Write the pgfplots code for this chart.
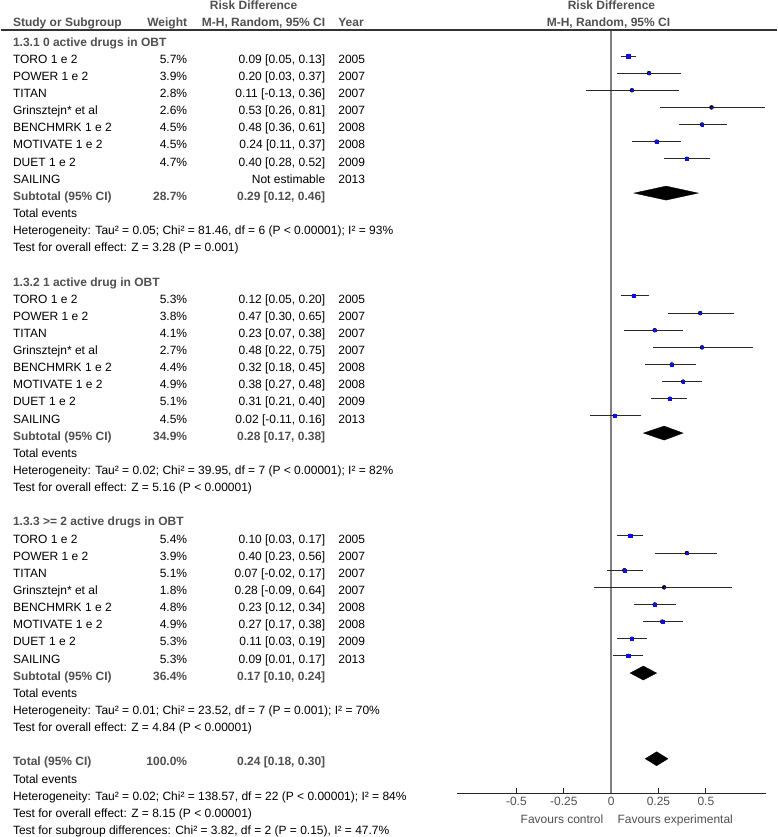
\documentclass[border=0pt]{standalone}
\usepackage{fontspec}
\setmainfont{Liberation Sans}
\usepackage{pgfplots}
\usepackage{pgfplotstable}
\pgfplotsset{compat=1.18}
\AtBeginDocument{\fontsize{12bp}{14bp}\selectfont}

\definecolor{hdr}{RGB}{80,80,80}
\definecolor{ci}{RGB}{40,40,40}
\definecolor{mk}{RGB}{15,15,225}
\definecolor{zero}{RGB}{128,128,128}

% column positions (axis x units)
\newcommand{\cx}{-3.158}
\newcommand{\wx}{-2.237}
\newcommand{\rx}{-1.508}
\newcommand{\yx}{-1.4406}

% row k: est lo hi weight
\pgfplotstableread{
k  est  lo    hi   w
1  0.09 0.05  0.13 5.7
2  0.20 0.03  0.37 3.9
3  0.11 -0.13 0.36 2.8
4  0.53 0.26  0.81 2.6
5  0.48 0.36  0.61 4.5
6  0.24 0.11  0.37 4.5
7  0.40 0.28  0.52 4.7
15 0.12 0.05  0.20 5.3
16 0.47 0.30  0.65 3.8
17 0.23 0.07  0.38 4.1
18 0.48 0.22  0.75 2.7
19 0.32 0.18  0.45 4.4
20 0.38 0.27  0.48 4.9
21 0.31 0.21  0.40 5.1
22 0.02 -0.11 0.16 4.5
29 0.10 0.03  0.17 5.4
30 0.40 0.23  0.56 3.9
31 0.07 -0.02 0.17 5.1
32 0.28 -0.09 0.64 1.8
33 0.23 0.12  0.34 4.8
34 0.27 0.17  0.38 4.9
35 0.11 0.03  0.19 5.3
36 0.09 0.01  0.17 5.3
}\studies

\newcommand{\srow}[5]{%
\node[t, anchor=base west] at (axis cs:\cx,{-(#1+0.42)}) {#2};
\node[t, anchor=base east] at (axis cs:\wx,{-(#1+0.42)}) {#3};
\node[t, anchor=base east] at (axis cs:\rx,{-(#1+0.42)}) {#4};
\node[t, anchor=base west] at (axis cs:\yx,{-(#1+0.42)}) {#5};}
\newcommand{\brow}[4]{%
\node[t, anchor=base west, text=hdr, font=\bfseries] at (axis cs:\cx,{-(#1+0.42)}) {#2};
\node[t, anchor=base east, text=hdr, font=\bfseries] at (axis cs:\wx,{-(#1+0.42)}) {#3};
\node[t, anchor=base east, text=hdr, font=\bfseries] at (axis cs:\rx,{-(#1+0.42)}) {#4};}
\newcommand{\lrow}[2]{%
\node[t, anchor=base west] at (axis cs:\cx,{-(#1+0.42)}) {#2};}
\newcommand{\grow}[2]{%
\node[t, anchor=base west, text=hdr, font=\bfseries] at (axis cs:\cx,{-(#1+0.42)}) {#2};}

\begin{document}
\begin{tikzpicture}[t/.style={inner sep=0pt}]
\begin{axis}[
  x=189.5bp, y=17.146bp,
  xmin=-0.815, xmax=0.815, ymin=-44, ymax=0.516,
  axis x line=bottom, axis y line=center,
  axis line style={-},
  x axis line style={black!85, line width=0.9bp},
  y axis line style={zero, line width=1.4bp},
  hide obscured x ticks=false,
  xtick={-0.5,-0.25,0,0.25,0.5},
  xticklabels={-0.5,-0.25,0,0.25,0.5},
  xtick align=inside,
  major tick length=5bp,
  xtick style={black!85, line width=0.9bp},
  ytick=\empty,
  xticklabel style={text=hdr},
  clip=false,
]
% picture frame
\path (axis cs:-3.2227,2.266) rectangle (axis cs:0.8776,-46.55);
\draw[black!80, line width=1.2bp] (axis cs:-3.2227,0.516) -- (axis cs:0.8776,0.516);

% confidence intervals
\addplot[only marks, mark=none, forget plot,
  error bars/.cd, x dir=both, x explicit, error mark=none,
  error bar style={ci, line width=0.9bp}]
  table[x=est, y expr=-\thisrow{k},
        x error plus expr=\thisrow{hi}-\thisrow{est},
        x error minus expr=\thisrow{est}-\thisrow{lo}] {\studies};
% point estimates, size by weight
\addplot[scatter, only marks, mark=square*,
  scatter/use mapped color={draw=mk, fill=mk, line width=0.2bp},
  visualization depends on={0.3*\thisrow{w} \as \perpointmarksize},
  scatter/@pre marker code/.append style={/tikz/mark size=\perpointmarksize}]
  table[x=est, y expr=-\thisrow{k}] {\studies};

% pooled diamonds
\addplot[fill=black, draw=black, line width=0.3bp] coordinates {(0.12,-9) (0.29,-8.59) (0.46,-9) (0.29,-9.41)} -- cycle;
\addplot[fill=black, draw=black, line width=0.3bp] coordinates {(0.17,-23) (0.28,-22.59) (0.38,-23) (0.28,-23.41)} -- cycle;
\addplot[fill=black, draw=black, line width=0.3bp] coordinates {(0.10,-37) (0.17,-36.59) (0.24,-37) (0.17,-37.41)} -- cycle;
\addplot[fill=black, draw=black, line width=0.3bp] coordinates {(0.18,-42) (0.24,-41.59) (0.30,-42) (0.24,-42.41)} -- cycle;

% headers
\node[t, anchor=base, text=hdr, font=\bfseries] at (axis cs:-1.887,1.683) {Risk Difference};
\node[t, anchor=base, text=hdr, font=\bfseries] at (axis cs:0.002,1.683) {Risk Difference};
\node[t, anchor=base west, text=hdr, font=\bfseries] at (axis cs:\cx,0.709) {Study or Subgroup};
\node[t, anchor=base east, text=hdr, font=\bfseries] at (axis cs:\wx,0.709) {Weight};
\node[t, anchor=base east, text=hdr, font=\bfseries] at (axis cs:\rx,0.709) {M-H, Random, 95\% CI};
\node[t, anchor=base west, text=hdr, font=\bfseries] at (axis cs:\yx,0.709) {Year};
\node[t, anchor=base, text=hdr, font=\bfseries] at (axis cs:-0.014,0.709) {M-H, Random, 95\% CI};

% group 1
\grow{0}{1.3.1 0 active drugs in OBT}
\srow{1}{TORO 1 e 2}{5.7\%}{0.09 [0.05, 0.13]}{2005}
\srow{2}{POWER 1 e 2}{3.9\%}{0.20 [0.03, 0.37]}{2007}
\srow{3}{TITAN}{2.8\%}{0.11 [-0.13, 0.36]}{2007}
\srow{4}{Grinsztejn* et al}{2.6\%}{0.53 [0.26, 0.81]}{2007}
\srow{5}{BENCHMRK 1 e 2}{4.5\%}{0.48 [0.36, 0.61]}{2008}
\srow{6}{MOTIVATE 1 e 2}{4.5\%}{0.24 [0.11, 0.37]}{2008}
\srow{7}{DUET 1 e 2}{4.7\%}{0.40 [0.28, 0.52]}{2009}
\srow{8}{SAILING}{}{Not estimable}{2013}
\brow{9}{Subtotal (95\% CI)}{28.7\%}{0.29 [0.12, 0.46]}
\lrow{10}{Total events}
\lrow{11}{Heterogeneity: Tau² = 0.05; Chi² = 81.46, df = 6 (P < 0.00001); I² = 93\%}
\lrow{12}{Test for overall effect: Z = 3.28 (P = 0.001)}

% group 2
\grow{14}{1.3.2 1 active drug in OBT}
\srow{15}{TORO 1 e 2}{5.3\%}{0.12 [0.05, 0.20]}{2005}
\srow{16}{POWER 1 e 2}{3.8\%}{0.47 [0.30, 0.65]}{2007}
\srow{17}{TITAN}{4.1\%}{0.23 [0.07, 0.38]}{2007}
\srow{18}{Grinsztejn* et al}{2.7\%}{0.48 [0.22, 0.75]}{2007}
\srow{19}{BENCHMRK 1 e 2}{4.4\%}{0.32 [0.18, 0.45]}{2008}
\srow{20}{MOTIVATE 1 e 2}{4.9\%}{0.38 [0.27, 0.48]}{2008}
\srow{21}{DUET 1 e 2}{5.1\%}{0.31 [0.21, 0.40]}{2009}
\srow{22}{SAILING}{4.5\%}{0.02 [-0.11, 0.16]}{2013}
\brow{23}{Subtotal (95\% CI)}{34.9\%}{0.28 [0.17, 0.38]}
\lrow{24}{Total events}
\lrow{25}{Heterogeneity: Tau² = 0.02; Chi² = 39.95, df = 7 (P < 0.00001); I² = 82\%}
\lrow{26}{Test for overall effect: Z = 5.16 (P < 0.00001)}

% group 3
\grow{28}{1.3.3 >= 2 active drugs in OBT}
\srow{29}{TORO 1 e 2}{5.4\%}{0.10 [0.03, 0.17]}{2005}
\srow{30}{POWER 1 e 2}{3.9\%}{0.40 [0.23, 0.56]}{2007}
\srow{31}{TITAN}{5.1\%}{0.07 [-0.02, 0.17]}{2007}
\srow{32}{Grinsztejn* et al}{1.8\%}{0.28 [-0.09, 0.64]}{2007}
\srow{33}{BENCHMRK 1 e 2}{4.8\%}{0.23 [0.12, 0.34]}{2008}
\srow{34}{MOTIVATE 1 e 2}{4.9\%}{0.27 [0.17, 0.38]}{2008}
\srow{35}{DUET 1 e 2}{5.3\%}{0.11 [0.03, 0.19]}{2009}
\srow{36}{SAILING}{5.3\%}{0.09 [0.01, 0.17]}{2013}
\brow{37}{Subtotal (95\% CI)}{36.4\%}{0.17 [0.10, 0.24]}
\lrow{38}{Total events}
\lrow{39}{Heterogeneity: Tau² = 0.01; Chi² = 23.52, df = 7 (P = 0.001); I² = 70\%}
\lrow{40}{Test for overall effect: Z = 4.84 (P < 0.00001)}

% overall
\brow{42}{Total (95\% CI)}{100.0\%}{0.24 [0.18, 0.30]}
\lrow{43}{Total events}
\lrow{44}{Heterogeneity: Tau² = 0.02; Chi² = 138.57, df = 22 (P < 0.00001); I² = 84\%}
\lrow{45}{Test for overall effect: Z = 8.15 (P < 0.00001)}
\lrow{46}{Test for subgroup differences: Chi² = 3.82, df = 2 (P = 0.15), I² = 47.7\%}

\node[t, anchor=base east, text=hdr] at (axis cs:-0.04,-45.79) {Favours control};
\node[t, anchor=base west, text=hdr] at (axis cs:0.033,-45.79) {Favours experimental};
\end{axis}
\end{tikzpicture}
\end{document}
